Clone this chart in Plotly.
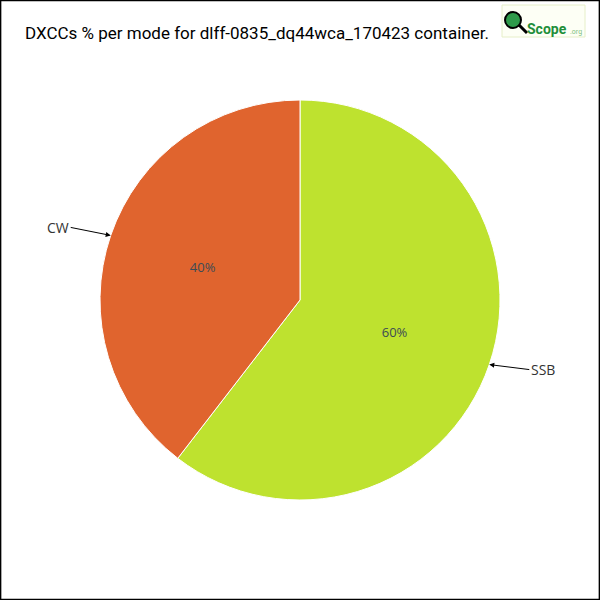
import math
import plotly.graph_objects as go

modes = ["SSB", "CW"]
counts = [26, 17]
colors = ["#BEE22F", "#E0642E"]
title = "DXCCs % per mode for dlff-0835_dq44wca_170423 container."

W = H = 600
cx, cy, R = 300, 300, 200

fig = go.Figure(go.Pie(
    labels=modes, values=counts, sort=False, direction="clockwise", rotation=0,
    marker=dict(colors=colors, line=dict(color="#ffffff", width=1)),
    textinfo="percent", texttemplate="%{percent:.0%}", textposition="inside",
    insidetextorientation="horizontal",
    textfont=dict(family="Open Sans", size=13, color="#3c4b55"),
    domain=dict(x=[(cx - R) / W, (cx + R) / W], y=[(H - cy - R) / H, (H - cy + R) / H]),
    showlegend=False, hoverinfo="label+percent",
))

anns = []
total = sum(counts)
cum = 0
for lab, v in zip(modes, counts):
    mid = (cum + v / 2) / total * 2 * math.pi
    cum += v
    tx = cx + R * math.sin(mid)
    ty = cy - R * math.cos(mid)
    side = 1 if math.sin(mid) > 0 else -1
    anns.append(dict(
        x=tx / W, y=1 - ty / H, xref="paper", yref="paper",
        text=lab, showarrow=True, arrowhead=2, arrowsize=1, arrowwidth=1,
        arrowcolor="#000", ax=side * 40, ay=5 if side > 0 else -8,
        xanchor="left" if side > 0 else "right",
        font=dict(family="Open Sans", size=14, color="#333"),
    ))

anns.append(dict(x=257 / W, y=1 - 21 / H, xref="paper", yref="paper", showarrow=False,
                 text=title, font=dict(family="Roboto", size=17, color="#000")))
anns.append(dict(x=525 / W, y=1 - 19 / H, xref="paper", yref="paper", showarrow=False,
                 xanchor="left", text="<b>Scope</b>",
                 font=dict(family="Roboto", size=14, color="#1f8f3a")))
anns.append(dict(x=568 / W, y=1 - 26 / H, xref="paper", yref="paper", showarrow=False,
                 xanchor="left", text=".org",
                 font=dict(family="Roboto", size=7, color="#7fbf7f")))

shapes = [
    dict(type="rect", xref="paper", yref="paper", x0=0.001, y0=0.001, x1=0.999, y1=0.999,
         line=dict(color="#000", width=1.5)),
    dict(type="rect", xref="paper", yref="paper", x0=502 / W, x1=585 / W, y0=1 - 37 / H, y1=1 - 5 / H,
         line=dict(color="#e6efc8", width=1), fillcolor="#fdfff5"),
    dict(type="line", xref="paper", yref="paper", x0=518 / W, y0=1 - 24 / H, x1=527 / W, y1=1 - 33 / H,
         line=dict(color="#000", width=3)),
    dict(type="circle", xref="paper", yref="paper", x0=505 / W, x1=521 / W, y0=1 - 28 / H, y1=1 - 12 / H,
         line=dict(color="#000", width=2), fillcolor="#2e9a4a"),
]

fig.update_layout(width=W, height=H, margin=dict(l=0, r=0, t=0, b=0),
                  paper_bgcolor="#fff", plot_bgcolor="#fff",
                  annotations=anns, shapes=shapes)
fig.write_html("out.html", config={"displayModeBar": False},
               post_script="document.body.style.margin='0';")
